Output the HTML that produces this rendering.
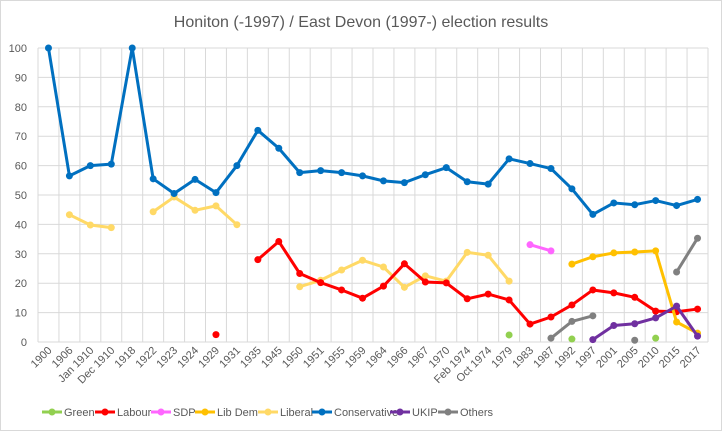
<!DOCTYPE html>
<html><head><meta charset="utf-8"><style>
html,body{margin:0;padding:0;background:#fff}
svg{display:block;font-family:"Liberation Sans",sans-serif}
</style></head><body>
<svg id="c" width="722" height="432" xmlns="http://www.w3.org/2000/svg">
<rect x="0.5" y="0.5" width="721" height="430" fill="#fff" stroke="#d9d9d9"/>
<text x="361" y="27" text-anchor="middle" font-size="16" fill="#595959">Honiton (-1997) / East Devon (1997-) election results</text>
<g id="grid"></g><g id="lab"></g><g id="ser"></g>
<g font-size="11" fill="#595959">
<line x1="42" y1="412" x2="62" y2="412" stroke="#92d050" stroke-width="3"/><circle cx="52" cy="412" r="3.5" fill="#92d050"/><text x="64" y="416">Green</text>
<line x1="95" y1="412" x2="115" y2="412" stroke="#ff0000" stroke-width="3"/><circle cx="105" cy="412" r="3.5" fill="#ff0000"/><text x="117" y="416">Labour</text>
<line x1="151" y1="412" x2="171" y2="412" stroke="#ff66ff" stroke-width="3"/><circle cx="161" cy="412" r="3.5" fill="#ff66ff"/><text x="173" y="416">SDP</text>
<line x1="195" y1="412" x2="215" y2="412" stroke="#ffc000" stroke-width="3"/><circle cx="205" cy="412" r="3.5" fill="#ffc000"/><text x="217" y="416">Lib Dem</text>
<line x1="258" y1="412" x2="278" y2="412" stroke="#ffd966" stroke-width="3"/><circle cx="268" cy="412" r="3.5" fill="#ffd966"/><text x="280" y="416">Liberal</text>
<line x1="312" y1="412" x2="332" y2="412" stroke="#0070c0" stroke-width="3"/><circle cx="322" cy="412" r="3.5" fill="#0070c0"/><text x="334" y="416">Conservative</text>
<line x1="390" y1="412" x2="410" y2="412" stroke="#7030a0" stroke-width="3"/><circle cx="400" cy="412" r="3.5" fill="#7030a0"/><text x="412" y="416">UKIP</text>
<line x1="438" y1="412" x2="458" y2="412" stroke="#808080" stroke-width="3"/><circle cx="448" cy="412" r="3.5" fill="#808080"/><text x="460" y="416">Others</text>
</g>
</svg>
<script>
var cats=["1900","1906","Jan 1910","Dec 1910","1918","1922","1923","1924","1929","1931","1935","1945","1950","1951","1955","1959","1964","1966","1967","1970","Feb 1974","Oct 1974","1979","1983","1987","1992","1997","2001","2005","2010","2015","2017"];
var L=38,R=708,T=48,B=342,w=(R-L)/32;
function X(i){return L+w*(i+0.5)}function Y(v){return B-(B-T)*v/100}
var g='',ns='';
for(var v=0;v<=100;v+=10){g+='<line x1="'+L+'" x2="'+R+'" y1="'+Y(v)+'" y2="'+Y(v)+'" stroke="#d9d9d9"/>';
g+='<text x="27" y="'+(Y(v)+4)+'" text-anchor="end" font-size="11" fill="#595959">'+v+'</text>';}
for(var k=0;k<=32;k++){var x=L+w*k;g+='<line x1="'+x+'" x2="'+x+'" y1="'+T+'" y2="'+B+'" stroke="#d9d9d9"/>';}
document.getElementById('grid').innerHTML=g;
var l='';cats.forEach(function(c,i){var x=X(i)+4,y=351;l+='<text transform="translate('+x+','+y+') rotate(-45)" text-anchor="end" font-size="11" fill="#595959">'+c+'</text>'});
document.getElementById('lab').innerHTML=l;
var n=null;
var S=[
["#ffd966",[n,43.3,39.8,38.9,n,44.3,49.3,44.8,46.3,39.9,n,n,18.8,21,24.5,27.8,25.5,18.6,22.5,20.7,30.5,29.5,20.7]],
["#0070c0",[100,56.5,60,60.5,100,55.5,50.5,55.3,50.8,60,72,65.9,57.6,58.3,57.6,56.5,54.8,54.2,56.9,59.3,54.5,53.7,62.3,60.7,59,52.1,43.4,47.3,46.7,48.1,46.4,48.5]],
["#ff0000",[n,n,n,n,n,n,n,n,2.5,n,28,34.2,23.3,20.2,17.7,14.9,19,26.6,20.4,20.1,14.7,16.3,14.3,6.1,8.5,12.6,17.7,16.7,15.2,10.5,10.3,11.2]],
["#ff66ff",[n,n,n,n,n,n,n,n,n,n,n,n,n,n,n,n,n,n,n,n,n,n,n,33.1,31]],
["#ffc000",[n,n,n,n,n,n,n,n,n,n,n,n,n,n,n,n,n,n,n,n,n,n,n,n,n,26.5,29,30.3,30.6,31,6.8,3]],
["#808080",[n,n,n,n,n,n,n,n,n,n,n,n,n,n,n,n,n,n,n,n,n,n,n,n,1.3,7,8.9,n,0.6,n,23.8,35.3]],
["#7030a0",[n,n,n,n,n,n,n,n,n,n,n,n,n,n,n,n,n,n,n,n,n,n,n,n,n,n,0.8,5.6,6.2,8.2,12.2,2]],
["#92d050",[n,n,n,n,n,n,n,n,n,n,n,n,n,n,n,n,n,n,n,n,n,n,2.4,n,n,1,n,n,n,1.3]]];
var s='';S.forEach(function(q){var c=q[0],d=q[1];
for(var i=1;i<d.length;i++)if(d[i]!=null&&d[i-1]!=null)s+='<line x1="'+X(i-1)+'" y1="'+Y(d[i-1])+'" x2="'+X(i)+'" y2="'+Y(d[i])+'" stroke="'+c+'" stroke-width="3" stroke-linecap="round"/>';
d.forEach(function(v,i){if(v!=null)s+='<circle cx="'+X(i)+'" cy="'+Y(v)+'" r="3.5" fill="'+c+'"/>'});});
document.getElementById('ser').innerHTML=s;
</script>
</body></html>
